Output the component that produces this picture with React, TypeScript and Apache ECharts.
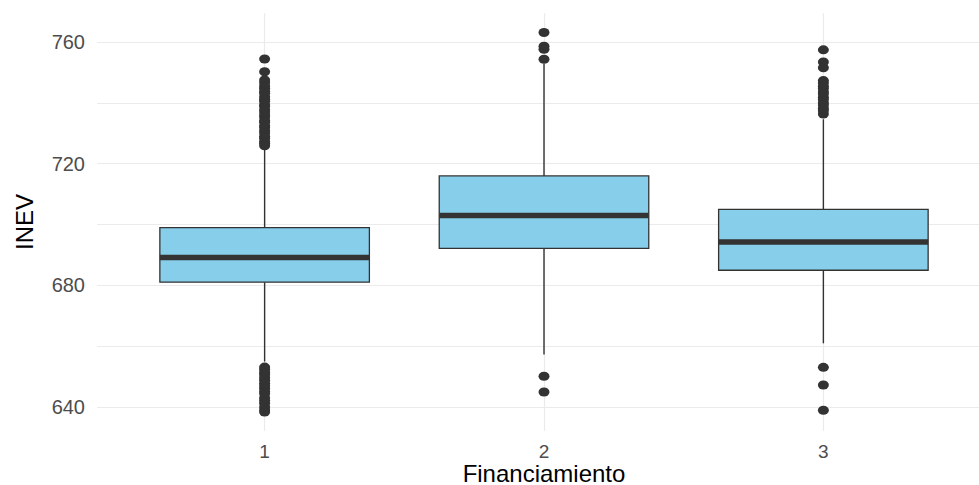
import React, { useEffect, useRef } from "react";
import * as echarts from "echarts";

const categories = [1, 2, 3];
const categoryLabels = ["1", "2", "3"];
// [whisker low, Q1, median, Q3, whisker high]
const boxStats = [
  [655.0, 681.1, 689.2, 699.0, 725.3],
  [657.3, 692.2, 703.0, 716.0, 752.8],
  [661.0, 685.0, 694.3, 705.0, 734.6],
];
const outliers1 = [
  754.4, 750.2, 747.5, 746.6, 745.5, 744.8, 743.8, 743.1, 742.0, 741.2, 740.5,
  739.4, 738.8, 737.7, 737.0, 736.0, 735.3, 734.2, 733.6, 732.5, 731.8, 730.8,
  730.1, 729.0, 728.4, 727.3, 726.7, 725.9,
  653.2, 652.4, 651.4, 650.7, 649.7, 648.9, 647.9, 647.0, 646.2, 645.2, 644.4,
  643.1, 642.2, 641.3, 640.1, 639.1, 638.4,
];
const outliers2 = [763.1, 758.6, 757.6, 754.3, 650.2, 645.0];
const outliers3 = [
  757.4, 753.4, 751.5, 747.3, 746.5, 745.4, 744.7, 743.6, 742.9, 741.8, 741.1,
  740.0, 739.3, 738.2, 737.4, 736.3,
  653.1, 647.3, 639.0,
];
const yLabelValues = [640, 680, 720, 760];
const yGridValues = [640, 660, 680, 700, 720, 740, 760];
const yMin = 632.2;
const yMax = 769.5;
const xMin = 0.4;
const xMax = 3.6;

export default function App() {
  const ref = useRef<HTMLDivElement>(null);

  useEffect(() => {
    if (!ref.current) return;
    const chart = echarts.init(ref.current, null, { renderer: "svg" });
    const outlierGroups = [outliers1, outliers2, outliers3];
    const outlierData: number[][] = [];
    outlierGroups.forEach((g, i) => g.forEach((v) => outlierData.push([categories[i], v])));
    const boxData = boxStats.map((s, i) => [categories[i], ...s]);

    chart.setOption({
      animation: false,
      backgroundColor: "#ffffff",
      grid: {
        left: 97,
        top: 13,
        width: 894,
        bottom: 54,
        containLabel: false,
        outerBoundsMode: "none",
      },
      xAxis: {
        type: "value",
        min: xMin,
        max: xMax,
        name: "Financiamiento",
        nameLocation: "middle",
        nameGap: 31,
        nameMoveOverlap: false,
        nameTextStyle: { fontFamily: "Liberation Sans", fontSize: 24, lineHeight: 22, color: "#000000" },
        axisLine: { show: false },
        axisTick: { show: false, customValues: categories },
        axisLabel: {
          customValues: categories,
          formatter: (v: number) => categoryLabels[categories.indexOf(Math.round(v))] ?? "",
          fontFamily: "Liberation Sans",
          fontSize: 19,
          lineHeight: 18,
          color: "#4D4D4D",
          margin: 11,
        },
        splitLine: { show: true, lineStyle: { color: "#EBEBEB", width: 1.2 } },
      },
      yAxis: {
        type: "value",
        min: yMin,
        max: yMax,
        name: "INEV",
        nameLocation: "middle",
        nameGap: 61,
        nameMoveOverlap: false,
        nameTextStyle: { fontFamily: "Liberation Sans", fontSize: 24, color: "#000000" },
        axisLine: { show: false },
        axisTick: { show: false, customValues: yGridValues },
        axisLabel: {
          customValues: yLabelValues,
          fontFamily: "Liberation Sans",
          fontSize: 20,
          color: "#4D4D4D",
          margin: 12,
        },
        splitLine: { show: true, lineStyle: { color: "#EBEBEB", width: 1.2 } },
      },
      series: [
        {
          type: "custom",
          data: boxData,
          encode: { x: 0, y: [1, 2, 3, 4, 5] },
          renderItem: (params: any, api: any) => {
            const x = api.value(0);
            const lo = api.coord([x, api.value(1)]);
            const q1 = api.coord([x, api.value(2)]);
            const med = api.coord([x, api.value(3)]);
            const q3 = api.coord([x, api.value(4)]);
            const hi = api.coord([x, api.value(5)]);
            const w = api.size([0.75, 0])[0];
            const cx = q1[0];
            const stroke = "#333333";
            return {
              type: "group",
              children: [
                { type: "line", shape: { x1: cx, y1: hi[1], x2: cx, y2: q3[1] }, style: { stroke, lineWidth: 1.4 } },
                { type: "line", shape: { x1: cx, y1: q1[1], x2: cx, y2: lo[1] }, style: { stroke, lineWidth: 1.4 } },
                {
                  type: "rect",
                  shape: { x: cx - w / 2, y: q3[1], width: w, height: q1[1] - q3[1] },
                  style: { fill: "#87CEEB", stroke, lineWidth: 1.3 },
                },
                {
                  type: "line",
                  shape: { x1: cx - w / 2, y1: med[1], x2: cx + w / 2, y2: med[1] },
                  style: { stroke, lineWidth: 5.5 },
                },
              ],
            };
          },
        },
        {
          type: "scatter",
          data: outlierData,
          symbol: "path://M0 5 A5 5 0 1 0 10 5 A5 5 0 1 0 0 5 Z",
          symbolSize: [11, 9],
          itemStyle: { color: "#333333", opacity: 1 },
          z: 3,
        },
      ],
    });
    return () => chart.dispose();
  }, []);

  return (
    <div
      ref={ref}
      style={{ position: "fixed", left: 0, top: 0, width: 979, height: 485, background: "#fff" }}
    />
  );
}
